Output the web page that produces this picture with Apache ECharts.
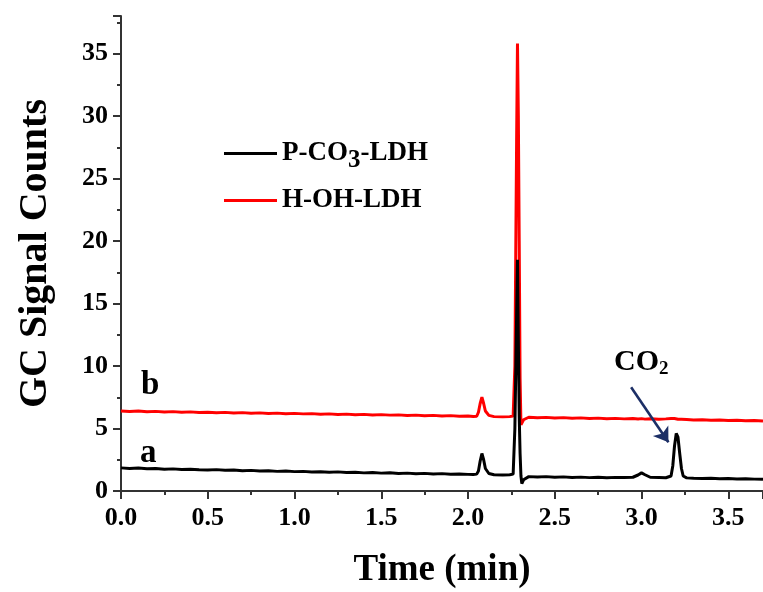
<!DOCTYPE html>
<html>
<head>
<meta charset="utf-8">
<script src="https://cdn.jsdelivr.net/npm/echarts@6/dist/echarts.min.js"></script>
<style>
  html, body { margin: 0; padding: 0; background: #fff; }
  #chart { width: 763px; height: 592px; }
</style>
</head>
<body>
<div id="chart"></div>
<script>
// retention time (min), shared by both traces
const timeMin = [
    0.00, 0.05, 0.10, 0.15, 0.20, 0.25, 0.30, 0.35, 0.40, 0.45,
    0.50, 0.55, 0.60, 0.65, 0.70, 0.75, 0.80, 0.85, 0.90, 0.95,
    1.00, 1.05, 1.10, 1.15, 1.20, 1.25, 1.30, 1.35, 1.40, 1.45,
    1.50, 1.55, 1.60, 1.65, 1.70, 1.75, 1.80, 1.85, 1.90, 1.95,
    2.00, 2.03, 2.05, 2.06, 2.07, 2.08, 2.09, 2.10, 2.12, 2.15,
    2.20, 2.24, 2.26, 2.27, 2.275, 2.28, 2.285, 2.29, 2.295, 2.30,
    2.305, 2.31, 2.32, 2.35, 2.40, 2.45, 2.50, 2.55, 2.60, 2.65,
    2.70, 2.75, 2.80, 2.85, 2.90, 2.95, 2.98, 3.00, 3.02, 3.05,
    3.10, 3.14, 3.17, 3.18, 3.19, 3.20, 3.21, 3.22, 3.23, 3.24,
    3.26, 3.30, 3.35, 3.40, 3.45, 3.50, 3.55, 3.60, 3.65, 3.70
];

// a: P-CO3-LDH
const countsA = [
    1.85, 1.80, 1.84, 1.78, 1.80, 1.74, 1.77, 1.72, 1.74, 1.70,
    1.68, 1.71, 1.66, 1.68, 1.62, 1.65, 1.60, 1.62, 1.57, 1.60,
    1.55, 1.57, 1.52, 1.54, 1.50, 1.53, 1.48, 1.50, 1.45, 1.48,
    1.43, 1.46, 1.40, 1.43, 1.38, 1.41, 1.36, 1.39, 1.34, 1.36,
    1.33, 1.32, 1.35, 1.60, 2.40, 3.00, 2.50, 1.80, 1.40, 1.30,
    1.28, 1.30, 1.35, 5.00, 9.50, 14.0, 18.5, 12.0, 6.00, 3.00,
    1.20, 0.60, 0.90, 1.15, 1.12, 1.15, 1.10, 1.13, 1.08, 1.11,
    1.07, 1.10, 1.06, 1.09, 1.08, 1.10, 1.28, 1.45, 1.30, 1.10,
    1.08, 1.06, 1.20, 2.00, 3.60, 4.60, 4.30, 3.00, 1.80, 1.20,
    1.05, 1.02, 1.00, 1.02, 0.98, 1.00, 0.96, 0.98, 0.95, 0.94
];

// b: H-OH-LDH
const countsB = [
    6.40, 6.36, 6.40, 6.34, 6.37, 6.32, 6.35, 6.30, 6.33, 6.28,
    6.30, 6.26, 6.29, 6.24, 6.27, 6.22, 6.25, 6.20, 6.23, 6.18,
    6.21, 6.17, 6.19, 6.14, 6.17, 6.12, 6.15, 6.10, 6.13, 6.08,
    6.11, 6.07, 6.09, 6.04, 6.07, 6.02, 6.05, 6.00, 6.03, 5.98,
    6.00, 5.96, 5.98, 6.30, 7.00, 7.50, 7.00, 6.40, 6.05, 5.95,
    5.93, 5.95, 6.00, 10.0, 19.0, 28.0, 35.8, 30.0, 20.0, 9.00,
    5.30, 5.20, 5.70, 5.90, 5.86, 5.89, 5.84, 5.87, 5.82, 5.85,
    5.80, 5.83, 5.78, 5.81, 5.77, 5.80, 5.76, 5.79, 5.75, 5.78,
    5.74, 5.77, 5.80, 5.84, 5.80, 5.76, 5.74, 5.72, 5.74, 5.70,
    5.72, 5.68, 5.70, 5.66, 5.68, 5.64, 5.66, 5.62, 5.64, 5.60
];

// arrow pointing at the CO2 peak, [start, end] in data units
const co2Arrow = [[2.94, 8.3], [3.155, 3.9]];

const serif = "'Liberation Serif', 'Times New Roman', serif";
const axisColor = '#333';

function pairs(xs, ys) {
    return xs.map((x, i) => [x, ys[i]]);
}

const chart = echarts.init(document.getElementById('chart'));

const option = {
    backgroundColor: '#fff',
    animation: false,
    grid: { left: 121, right: 0, top: 16, bottom: 101, outerBoundsMode: 'none', containLabel: false },
    legend: {
        orient: 'vertical',
        left: 219,
        top: 135,
        itemWidth: 53,
        itemHeight: 3,
        itemGap: 14,
        icon: 'rect',
        data: ['P-CO3-LDH', 'H-OH-LDH'],
        formatter: function (name) {
            if (name === 'P-CO3-LDH') return '{b|P-CO}{s|3}{b|-LDH}';
            return '{b|' + name + '}';
        },
        textStyle: {
            rich: {
                b: { fontFamily: serif, fontWeight: 'bold', fontSize: 27, color: '#000' },
                s: { fontFamily: serif, fontWeight: 'bold', fontSize: 25, color: '#000', padding: [14, 0, 0, 0] }
            }
        }
    },
    xAxis: [
        {
            type: 'value',
            min: 0,
            max: 3.7,
            interval: 0.5,
            name: 'Time (min)',
            nameLocation: 'middle',
            nameGap: 61,
            nameTextStyle: { fontFamily: serif, fontWeight: 'bold', fontSize: 37, color: '#000' },
            axisLine: { show: true, onZero: false, lineStyle: { color: axisColor, width: 2 } },
            axisTick: { show: true, inside: false, length: 8, lineStyle: { color: axisColor, width: 2 } },
            minorTick: { show: true, splitNumber: 2, length: 4, lineStyle: { color: axisColor, width: 2 } },
            splitLine: { show: false },
            axisLabel: {
                margin: 14,
                showMaxLabel: false,
                fontFamily: serif, fontWeight: 'bold', fontSize: 26, color: '#000',
                formatter: v => v.toFixed(1)
            }
        },
        {
            type: 'value',
            position: 'top',
            min: 0,
            max: 3.7,
            axisLine: { show: true, lineStyle: { color: axisColor, width: 2 } },
            axisTick: { show: false },
            axisLabel: { show: false },
            splitLine: { show: false }
        }
    ],
    yAxis: {
        type: 'value',
        min: 0,
        max: 38,
        interval: 5,
        name: 'GC Signal Counts',
        nameLocation: 'middle',
        nameGap: 65,
        nameRotate: 90,
        nameTextStyle: { fontFamily: serif, fontWeight: 'bold', fontSize: 40, color: '#000' },
        axisLine: { show: true, lineStyle: { color: axisColor, width: 2 } },
        axisTick: { show: true, inside: false, length: 8, lineStyle: { color: axisColor, width: 2 } },
        minorTick: { show: true, splitNumber: 2, length: 4, lineStyle: { color: axisColor, width: 2 } },
        splitLine: { show: false },
        axisLabel: { margin: 13, showMaxLabel: false, fontFamily: serif, fontWeight: 'bold', fontSize: 26, color: '#000' }
    },
    series: [
        {
            name: 'H-OH-LDH',
            type: 'line',
            data: pairs(timeMin, countsB),
            showSymbol: false,
            lineStyle: { color: '#ff0000', width: 3 },
            itemStyle: { color: '#ff0000' },
            z: 2
        },
        {
            name: 'P-CO3-LDH',
            type: 'line',
            data: pairs(timeMin, countsA),
            showSymbol: false,
            lineStyle: { color: '#000', width: 3 },
            itemStyle: { color: '#000' },
            z: 3,
            markLine: {
                silent: true,
                symbol: ['none', 'arrow'],
                symbolSize: 14,
                label: { show: false },
                lineStyle: { color: '#1c2f66', width: 2.6, type: 'solid' },
                data: [[{ coord: co2Arrow[0] }, { coord: co2Arrow[1] }]]
            }
        }
    ],
    graphic: [
        {
            type: 'text', left: 141, top: 369,
            style: { text: 'b', font: 'bold 33px ' + serif, fill: '#000' }
        },
        {
            type: 'text', left: 140, top: 437,
            style: { text: 'a', font: 'bold 33px ' + serif, fill: '#000' }
        },
        {
            type: 'text', left: 614, top: 347,
            style: {
                text: '{b|CO}{s|2}',
                rich: {
                    b: { fontFamily: serif, fontWeight: 'bold', fontSize: 30, fill: '#000' },
                    s: { fontFamily: serif, fontWeight: 'bold', fontSize: 19, fill: '#000', padding: [14, 0, 0, 0] }
                }
            }
        }
    ]
};

chart.setOption(option);
</script>
</body>
</html>
